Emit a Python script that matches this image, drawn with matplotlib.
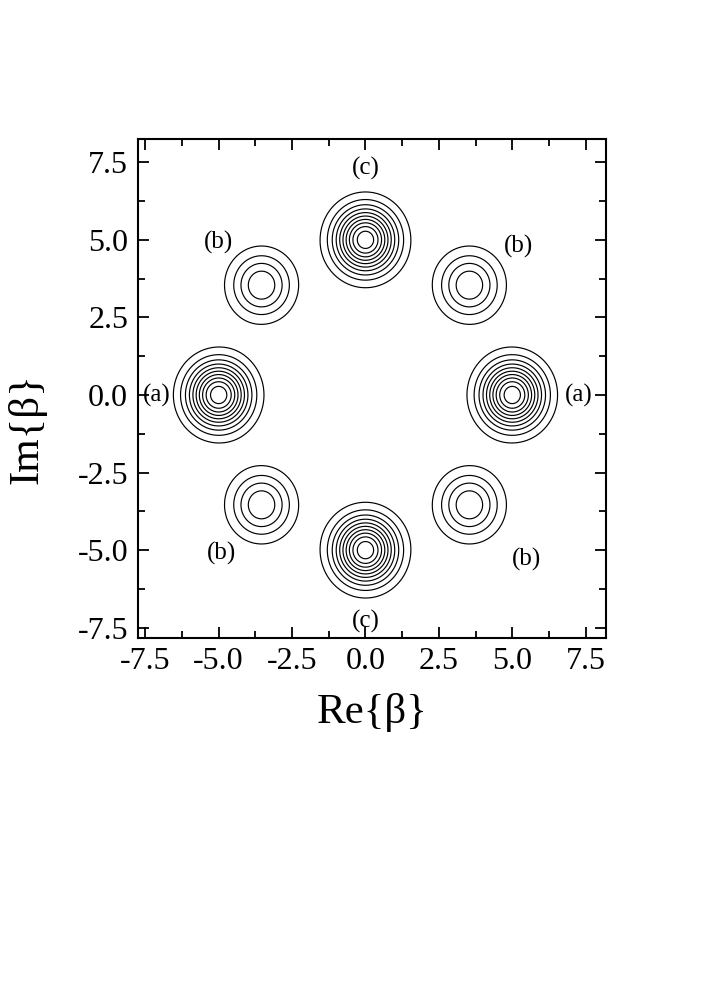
import numpy as np
import matplotlib
matplotlib.use("Agg")
from matplotlib import pyplot as plt
from matplotlib.ticker import MultipleLocator, FormatStrFormatter

plt.rcParams['font.family'] = ['Liberation Serif', 'DejaVu Serif']
plt.rcParams['axes.unicode_minus'] = False

# blob centres in the beta plane and their peak heights
centre_re = [5.0, 3.54, 0.0, -3.54, -5.0, -3.54, 0.0, 3.54]
centre_im = [0.0, 3.54, 5.0, 3.54, 0.0, -3.54, -5.0, -3.54]
peak = [1.08, 0.49, 1.08, 0.49, 1.08, 0.49, 1.08, 0.49]
levels = [0.1, 0.2, 0.3, 0.4, 0.5, 0.6, 0.7, 0.8, 0.9, 1.0]

# label texts and where they sit
label_text = ['(a)', '(a)', '(b)', '(b)', '(b)', '(b)', '(c)', '(c)']
label_x = [7.27, -7.1, -5.0, 5.2, -4.9, 5.5, 0.0, 0.0]
label_y = [0.0, 0.0, 4.9, 4.8, -5.1, -5.3, 7.3, -7.3]

x = np.linspace(-8, 8.3, 600)
y = np.linspace(-8, 8.3, 600)
X, Y = np.meshgrid(x, y)
Q = np.zeros_like(X)
for cr, ci, a in zip(centre_re, centre_im, peak):
    Q += a * np.exp(-((X - cr) ** 2 + (Y - ci) ** 2))

fig = plt.figure(figsize=(7.26, 9.81), dpi=100)
ax = fig.add_axes([0.190, 0.350, 0.645, 0.508])
ax.contour(X, Y, Q, levels=levels, colors='black', linewidths=0.85)

for t, lx, ly in zip(label_text, label_x, label_y):
    ax.text(lx, ly, t, ha='center', va='center', fontsize=18)

ax.set_xlim(-7.75, 8.2)
ax.set_ylim(-7.82, 8.24)
ax.xaxis.set_major_locator(MultipleLocator(2.5))
ax.yaxis.set_major_locator(MultipleLocator(2.5))
ax.xaxis.set_minor_locator(MultipleLocator(1.25))
ax.yaxis.set_minor_locator(MultipleLocator(1.25))
ax.xaxis.set_major_formatter(FormatStrFormatter('%.1f'))
ax.yaxis.set_major_formatter(FormatStrFormatter('%.1f'))
ax.tick_params(which='both', direction='in', top=True, right=True, width=1.3)
ax.tick_params(which='major', length=8, labelsize=23, pad=7)
ax.tick_params(which='minor', length=5)
for s in ax.spines.values():
    s.set_linewidth(1.5)

ax.set_xlabel('Re{β}', fontsize=31, labelpad=12)
ax.set_ylabel('Im{β}', fontsize=31)
ax.yaxis.set_label_coords(-0.196, 0.42)

fig.savefig('out.png', dpi=100)
